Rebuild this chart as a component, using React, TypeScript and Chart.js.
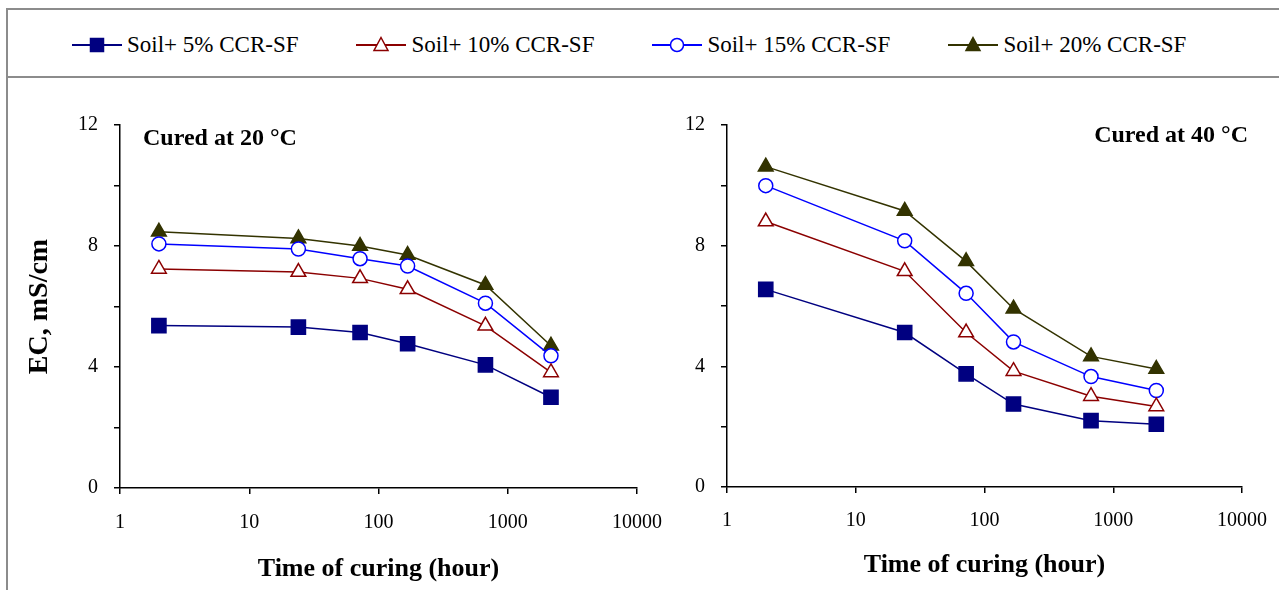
import { useEffect, useRef } from 'react';
import { Chart, registerables } from 'chart.js';

Chart.register(...registerables);

// curing time, hours
const hours = [2, 24, 72, 168, 672, 2160];
const xTicks = [1, 10, 100, 1000, 10000];

// EC (mS/cm) cured at 20 °C
const ec20_5 = [5.37, 5.32, 5.14, 4.77, 4.07, 3.0];
const ec20_10 = [7.24, 7.14, 6.93, 6.57, 5.36, 3.82];
const ec20_15 = [8.07, 7.9, 7.58, 7.34, 6.11, 4.37];
const ec20_20 = [8.47, 8.25, 8.0, 7.7, 6.71, 4.7];

// EC (mS/cm) cured at 40 °C
const ec40_5 = [6.55, 5.12, 3.75, 2.75, 2.2, 2.08];
const ec40_10 = [8.8, 7.15, 5.12, 3.84, 3.01, 2.67];
const ec40_15 = [9.99, 8.16, 6.42, 4.81, 3.66, 3.2];
const ec40_20 = [10.62, 9.15, 7.48, 5.91, 4.33, 3.91];

const seriesLabels = ['Soil+ 5% CCR-SF', 'Soil+ 10% CCR-SF', 'Soil+ 15% CCR-SF', 'Soil+ 20% CCR-SF'];

const FONT = '"Liberation Serif", "Times New Roman", serif';

const styles = [
  { color: '#000080', fill: '#000080', shape: 'rect', radius: 10 },
  { color: '#8b0000', fill: '#ffffff', shape: 'triangle', radius: 8.5 },
  { color: '#0000ff', fill: '#ffffff', shape: 'circle', radius: 7 },
  { color: '#333300', fill: '#333300', shape: 'triangle', radius: 8.5 },
];

const buildDatasets = (series: number[][]) =>
  series.map((vals, i) => ({
    label: seriesLabels[i],
    data: vals.map((v, j) => ({ x: hours[j], y: v })),
    borderColor: styles[i].color,
    backgroundColor: styles[i].fill,
    borderWidth: 1.5,
    pointStyle: styles[i].shape,
    pointRadius: styles[i].radius,
    pointBorderWidth: 1.5,
    pointBorderColor: styles[i].color,
    pointBackgroundColor: styles[i].fill,
    tension: 0,
  }));

interface PanelProps {
  series: number[][];
  note: string;
  noteRight: boolean;
  showYTitle: boolean;
  yWidth: number;
  xHeight: number;
  padRight: number;
  xTitlePad: number;
  xTickPad: number;
}

const Panel = ({ series, note, noteRight, showYTitle, yWidth, xHeight, padRight, xTitlePad, xTickPad }: PanelProps) => {
  const ref = useRef<HTMLCanvasElement>(null);

  useEffect(() => {
    if (!ref.current) return;

    const notePlugin = {
      id: 'note',
      afterDraw(chart: Chart) {
        const { ctx, chartArea } = chart;
        ctx.save();
        ctx.font = `bold 24px ${FONT}`;
        ctx.fillStyle = '#000';
        ctx.textBaseline = 'middle';
        if (noteRight) {
          ctx.textAlign = 'right';
          ctx.fillText(note, chartArea.right + 6, chartArea.top + 11);
        } else {
          ctx.textAlign = 'left';
          ctx.fillText(note, chartArea.left + 23, chartArea.top + 14);
        }
        ctx.restore();
      },
    };

    const chart = new Chart(ref.current, {
      type: 'line',
      data: { datasets: buildDatasets(series) as any },
      options: {
        animation: false,
        responsive: false,
        layout: { padding: { top: 35, right: padRight, bottom: 0, left: 0 } },
        plugins: { legend: { display: false }, tooltip: { enabled: false } },
        scales: {
          x: {
            type: 'logarithmic',
            min: 1,
            max: 10000,
            afterBuildTicks: (s: any) => {
              s.ticks = xTicks.map(v => ({ value: v }));
            },
            afterFit: (s: any) => {
              s.height = xHeight;
              s.paddingLeft = 0;
              s.paddingRight = 0;
            },
            ticks: {
              color: '#000',
              font: { family: FONT, size: 20 },
              padding: xTickPad,
              maxRotation: 0,
              autoSkip: false,
              callback: (v: any) => String(v),
            },
            grid: { drawOnChartArea: false, drawTicks: true, tickLength: 6, color: '#000', lineWidth: 1.5 },
            border: { display: true, color: '#000', width: 1.5 },
            title: {
              display: true,
              text: 'Time of curing (hour)',
              color: '#000',
              font: { family: FONT, size: 26, weight: 'bold' },
              padding: { top: 0, bottom: xTitlePad },
            },
          },
          y: {
            min: 0,
            max: 12,
            afterFit: (s: any) => {
              s.width = yWidth;
            },
            ticks: {
              stepSize: 2,
              color: '#000',
              font: { family: FONT, size: 20 },
              padding: 16,
              callback: (v: any) => (Number(v) % 4 === 0 ? String(v) : ''),
            },
            grid: { drawOnChartArea: false, drawTicks: true, tickLength: 6, color: '#000', lineWidth: 1.5 },
            border: { display: true, color: '#000', width: 1.5 },
            title: {
              display: showYTitle,
              text: 'EC, mS/cm',
              color: '#000',
              font: { family: FONT, size: 28, weight: 'bold' },
              padding: { top: 23, bottom: 0 },
            },
          },
        },
      },
      plugins: [notePlugin],
    });

    return () => {
      chart.destroy();
    };
  }, [series, note, noteRight, showYTitle, yWidth, xHeight, padRight, xTitlePad, xTickPad]);

  return <canvas ref={ref} style={{ width: '100%', height: '100%' }} />;
};

const LegendIcon = ({ i }: { i: number }) => {
  const s = styles[i];
  let marker;
  if (s.shape === 'rect') {
    marker = <rect x={18.5} y={4.5} width={13} height={13} fill={s.fill} stroke={s.color} strokeWidth={1.5} />;
  } else if (s.shape === 'circle') {
    marker = <circle cx={25} cy={11} r={6.5} fill={s.fill} stroke={s.color} strokeWidth={1.5} />;
  } else {
    marker = <polygon points="25,3.5 32,16.5 18,16.5" fill={s.fill} stroke={s.color} strokeWidth={1.5} />;
  }
  return (
    <svg width={50} height={22} style={{ display: 'block' }}>
      <line x1={0} y1={11} x2={50} y2={11} stroke={s.color} strokeWidth={2} />
      {marker}
    </svg>
  );
};

const App = () => {
  const s20 = [ec20_5, ec20_10, ec20_15, ec20_20];
  const s40 = [ec40_5, ec40_10, ec40_15, ec40_20];

  return (
    <div style={{ position: 'absolute', left: 0, top: 0, width: 1279, height: 590, overflow: 'hidden', background: '#fff' }}>
      <div
        style={{
          position: 'absolute',
          left: 6,
          top: 8,
          width: 1280,
          height: 600,
          borderTop: '2px solid #8c8c8c',
          borderLeft: '2px solid #8c8c8c',
        }}
      />
      <div style={{ position: 'absolute', left: 6, top: 76, width: 1280, height: 2, background: '#8c8c8c' }} />
      <div
        style={{
          position: 'absolute',
          left: 72,
          top: 33,
          display: 'flex',
          gap: 58,
          fontFamily: FONT,
          fontSize: 23,
          lineHeight: '24px',
        }}
      >
        {seriesLabels.map((label, i) => (
          <div key={label} style={{ display: 'flex', alignItems: 'center', gap: 5 }}>
            <LegendIcon i={i} />
            <span style={{ whiteSpace: 'nowrap' }}>{label}</span>
          </div>
        ))}
      </div>
      <div style={{ position: 'absolute', left: 0, top: 90, width: 690, height: 500 }}>
        <Panel
          series={s20}
          note="Cured at 20 °C"
          noteRight={false}
          showYTitle={true}
          yWidth={120}
          xHeight={102}
          padRight={53}
          xTitlePad={5}
          xTickPad={17}
        />
      </div>
      <div style={{ position: 'absolute', left: 660, top: 90, width: 619, height: 500 }}>
        <Panel
          series={s40}
          note="Cured at 40 °C"
          noteRight={true}
          showYTitle={false}
          yWidth={67}
          xHeight={103}
          padRight={37}
          xTitlePad={9}
          xTickPad={16}
        />
      </div>
    </div>
  );
};

export default App;
